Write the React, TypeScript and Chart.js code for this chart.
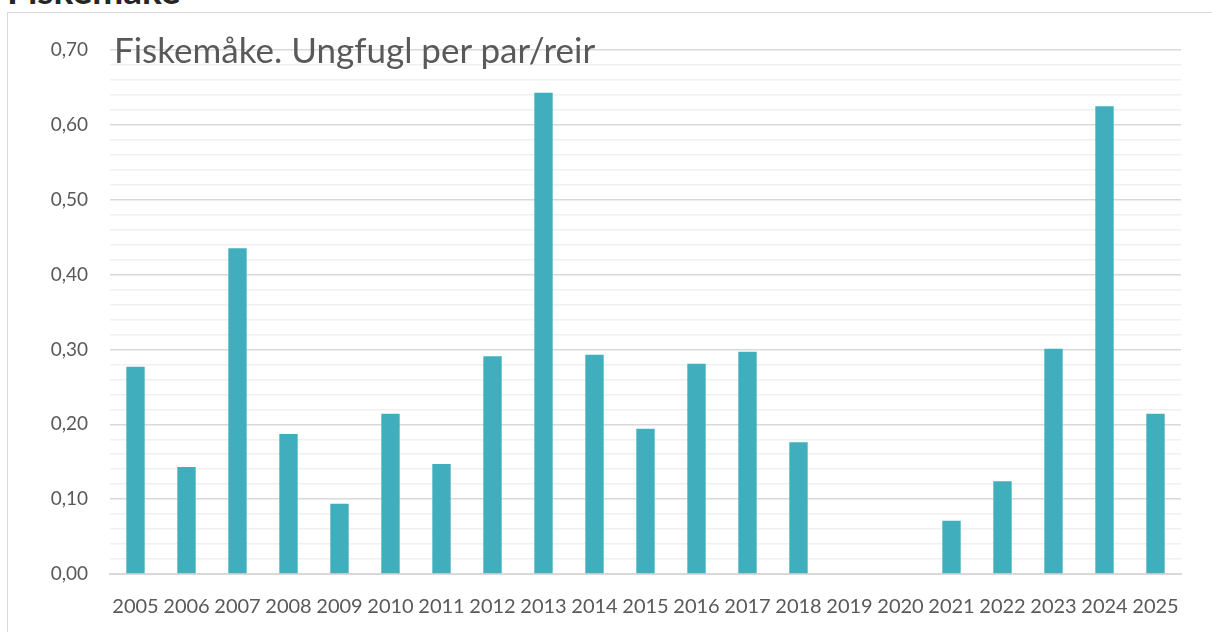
import React, { useEffect, useRef } from "react";
import { Chart, registerables } from "chart.js";

Chart.register(...registerables);

const years = ["2005","2006","2007","2008","2009","2010","2011","2012","2013","2014","2015","2016","2017","2018","2019","2020","2021","2022","2023","2024","2025"];
const youngPerPair: (number | null)[] = [0.277,0.143,0.435,0.187,0.094,0.214,0.147,0.291,0.643,0.293,0.194,0.281,0.297,0.176,null,null,0.071,0.124,0.301,0.625,0.214];
const pageHeading = "Fiskemåke";
const chartTitle = "Fiskemåke. Ungfugl per par/reir";

const FONT = "Lato, 'Open Sans', sans-serif";

export default function App() {
  const ref = useRef<HTMLCanvasElement | null>(null);
  useEffect(() => {
    if (!ref.current) return;
    const isMajor = (v: number) => Math.abs(v * 10 - Math.round(v * 10)) < 1e-6;
    const chart = new Chart(ref.current, {
      type: "bar",
      data: {
        labels: years,
        datasets: [{
          data: youngPerPair,
          backgroundColor: "#41aebd",
          barPercentage: 0.36,
          categoryPercentage: 1,
        }],
      },
      options: {
        animation: false,
        responsive: false,
        maintainAspectRatio: false,
        layout: { padding: { left: 0, right: 31, top: 50, bottom: 0 } },
        plugins: { legend: { display: false }, tooltip: { enabled: false }, title: { display: false } },
        scales: {
          x: {
            grid: { display: false },
            border: { display: true, color: "#d9d9d9", width: 2 },
            afterFit: (s: any) => { s.height = 58; },
            ticks: { color: "#595959", font: { family: FONT, size: 20 }, maxRotation: 0, minRotation: 0, autoSkip: false, padding: 13 },
          },
          y: {
            min: 0,
            max: 0.7,
            border: { display: false },
            afterFit: (s: any) => { s.width = 110; },
            grid: {
              color: (ctx: any) => (isMajor(ctx.tick.value) ? "#d9d9d9" : "#f0f0f0"),
              lineWidth: 1.5,
              drawTicks: false,
            },
            ticks: {
              stepSize: 0.02,
              color: "#595959",
              font: { family: FONT, size: 19 },
              padding: 22,
              autoSkip: false,
              callback: (v: any) => (isMajor(Number(v)) ? Number(v).toFixed(2).replace(".", ",") : ""),
            },
          },
        },
      },
    });
    return () => chart.destroy();
  }, []);

  return (
    <div style={{ position: "absolute", left: 0, top: 0, width: 1212, height: 632, overflow: "hidden", background: "#fff", fontFamily: FONT }}>
      <div style={{ position: "absolute", left: 7, top: -28, fontSize: 37, lineHeight: "36px", fontWeight: 700, color: "#262626", whiteSpace: "nowrap" }}>{pageHeading}</div>
      <div style={{ position: "absolute", left: 7, top: 12, width: 1220, height: 640, border: "1px solid #d9d9d9", boxSizing: "border-box" }} />
      <canvas ref={ref} width={1212} height={632} style={{ position: "absolute", left: 0, top: 0, width: 1212, height: 632 }} />
      <div style={{ position: "absolute", left: 114, top: 27, fontSize: 35, lineHeight: "44px", color: "#595959", whiteSpace: "nowrap" }}>{chartTitle}</div>
    </div>
  );
}
